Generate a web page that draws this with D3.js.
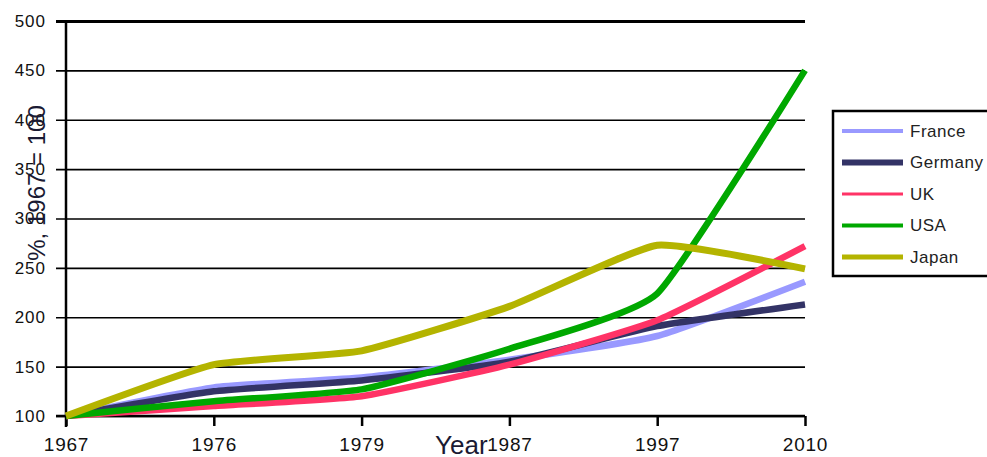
<!DOCTYPE html>
<html>
<head>
<meta charset="utf-8">
<script src="https://cdn.jsdelivr.net/npm/d3@7/dist/d3.min.js"></script>
<style>
  html, body { margin: 0; padding: 0; background: #fff; }
  svg { display: block; font-family: "Liberation Sans", Arial, sans-serif; }
</style>
</head>
<body>
<svg id="chart" width="987" height="457"></svg>
<script>
// Index values, 1967 = 100
const years   = ["1967", "1976", "1979", "1987", "1997", "2010"];
const france  = [100, 129, 139, 157, 181, 236];
const germany = [100, 125, 136, 155, 191, 213];
const uk      = [100, 110, 120, 152, 197, 272];
const usa     = [100, 115, 127, 168, 224, 450];
const japan   = [100, 152, 166, 211, 273, 249];
const yTicks  = [100, 150, 200, 250, 300, 350, 400, 450, 500];

const seriesNames  = ["France", "Germany", "UK", "USA", "Japan"];
const seriesValues = [france, germany, uk, usa, japan];
const seriesColors = ["#9999ff", "#333366", "#ff3366", "#00a800", "#b4b400"];

const svg = d3.select("#chart");
const plotLeft = 66, plotRight = 805, plotTop = 21, plotBottom = 416;

const x = d3.scalePoint().domain(years).range([plotLeft, plotRight]);
const y = d3.scaleLinear().domain([100, 500]).range([plotBottom, plotTop]);

// horizontal gridlines with outward ticks
const yAxis = d3.axisLeft(y).tickValues(yTicks).tickSize(-(plotRight - plotLeft)).tickSizeOuter(0)
  .tickFormat(d3.format("d")).tickPadding(10);
const gy = svg.append("g").attr("transform", `translate(${plotLeft},0)`).call(yAxis);
gy.select(".domain").remove();
gy.selectAll(".tick line")
  .attr("x1", -10)
  .attr("stroke", "#000")
  .attr("stroke-width", d => d === 500 ? 3 : 1.6);
gy.selectAll(".tick text")
  .attr("x", -20)
  .attr("fill", "#111")
  .style("font-size", "17px")
  .style("letter-spacing", "1px");

// bottom category axis
const xAxis = d3.axisBottom(x).tickSize(10).tickSizeOuter(0).tickPadding(12);
const gx = svg.append("g").attr("transform", `translate(0,${plotBottom})`).call(xAxis);
gx.select(".domain").attr("d", `M${plotLeft - 10},0H${plotRight}`).attr("stroke", "#000").attr("stroke-width", 2.5);
gx.selectAll(".tick line").attr("stroke", "#000").attr("stroke-width", 2.5);
gx.selectAll(".tick text")
  .attr("fill", "#111")
  .style("font-size", "19px")
  .style("letter-spacing", "0.8px");

// left axis line
svg.append("line")
  .attr("x1", plotLeft).attr("x2", plotLeft)
  .attr("y1", plotTop).attr("y2", plotBottom + 11)
  .attr("stroke", "#000").attr("stroke-width", 2.5);

// series lines, lightly smoothed at the joints
const line = d3.line()
  .x((d, i) => x(years[i]))
  .y(d => y(d))
  .curve(d3.curveCardinal.tension(0.55));

seriesValues.forEach((vals, k) => {
  svg.append("path")
    .datum(vals)
    .attr("d", line)
    .attr("fill", "none")
    .attr("stroke", seriesColors[k])
    .attr("stroke-width", k === 4 ? 7 : 6.5)
    .attr("stroke-linejoin", "round");
});

// axis titles
svg.append("text")
  .attr("x", 435).attr("y", 454)
  .attr("fill", "#1a1a33")
  .style("font-size", "26px")
  .text("Year");

svg.append("text")
  .attr("transform", "translate(45,183) rotate(-90)")
  .attr("text-anchor", "middle")
  .attr("fill", "#1a1a33")
  .style("font-size", "24px")
  .text("%, 1967 = 100");

// legend
const lg = svg.append("g");
lg.append("rect")
  .attr("x", 833).attr("y", 111)
  .attr("width", 170).attr("height", 165)
  .attr("fill", "#fff").attr("stroke", "#000").attr("stroke-width", 2.5);

const legendWidths = [4, 6, 3, 4, 5];
seriesNames.forEach((name, k) => {
  const cy = 131 + k * 31.5;
  lg.append("line")
    .attr("x1", 842).attr("x2", 903)
    .attr("y1", cy).attr("y2", cy)
    .attr("stroke", seriesColors[k])
    .attr("stroke-width", legendWidths[k]);
  lg.append("text")
    .attr("x", 910).attr("y", cy)
    .attr("dy", "0.35em")
    .attr("fill", "#222")
    .style("font-size", "17px")
    .style("letter-spacing", "0.5px")
    .text(name);
});
</script>
</body>
</html>
